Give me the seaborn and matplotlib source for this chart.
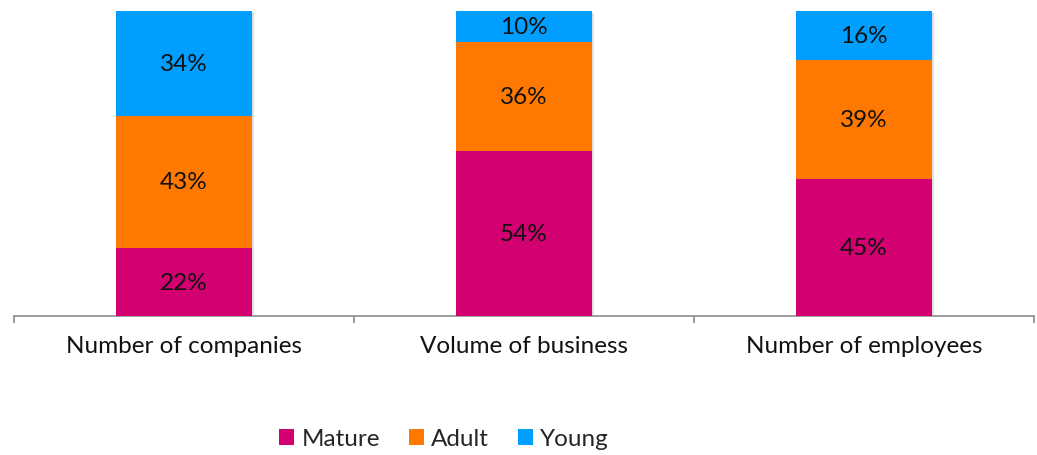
import numpy as np
import pandas as pd
import seaborn as sns
import matplotlib
matplotlib.use("Agg")
import matplotlib.pyplot as plt
from matplotlib.patches import Patch
from matplotlib.ticker import FixedLocator
import matplotlib.patheffects as pe

categories = ["Number of companies", "Volume of business", "Number of employees"]
series = ["Mature", "Adult", "Young"]
mature = [22, 54, 45]
adult = [43, 36, 39]
young = [34, 10, 16]
colors = ["#D20070", "#FF7800", "#009FFF"]

sns.set_theme(style="white")
plt.rcParams["font.family"] = ["Lato", "DejaVu Sans"]

values = np.array([mature, adult, young], dtype=float)
totals = values.sum(axis=0)
shares = values / totals * 100  # 100% stacked

FS = 17.5

fig = plt.figure(figsize=(10.37, 4.56), dpi=100)
ax = fig.add_axes([14 / 1037, 1 - 317 / 456, 1020 / 1037, 305 / 456])

bottom = np.zeros(len(categories))
for i, name in enumerate(series):
    n_before = len(ax.patches)
    df = pd.DataFrame({"cat": categories, "val": shares[i]})
    sns.barplot(data=df, x="cat", y="val", color=colors[i], width=0.4,
                bottom=bottom, ax=ax, saturation=1, linewidth=0,
                order=categories)
    for p in ax.patches[n_before:]:
        p.set_zorder(3 - i)
        p.set_path_effects([pe.SimplePatchShadow(offset=(1.5, -1.5), shadow_rgbFace="#999999", alpha=0.3),
                            pe.Normal()])
    for j in range(len(categories)):
        ax.text(j, bottom[j] + shares[i][j] / 2, f"{int(values[i][j])}%",
                ha="center", va="center", fontsize=FS, color="#111111", zorder=5)
    bottom = bottom + shares[i]

ax.set_xlim(-0.5, 2.5)
ax.set_ylim(0, 100)
ax.set_xlabel("")
ax.set_ylabel("")
ax.set_yticks([])
for s in ["top", "left", "right"]:
    ax.spines[s].set_visible(False)
ax.spines["bottom"].set_color("#8C8C8C")
ax.spines["bottom"].set_linewidth(1.2)
ax.xaxis.set_minor_locator(FixedLocator([-0.5, 0.5, 1.5, 2.5]))
ax.tick_params(axis="x", which="major", length=0, pad=14, labelsize=FS, labelcolor="#111111")
ax.tick_params(axis="x", which="minor", length=5, width=1.2, color="#8C8C8C", direction="out", bottom=True)

handles = [Patch(facecolor=c, edgecolor="none", label=s) for s, c in zip(series, colors)]
fig.legend(handles=handles, loc="center", bbox_to_anchor=(444 / 1037, 1 - 440 / 456),
           ncol=3, frameon=False, fontsize=FS, handlelength=0.6, handleheight=0.6,
           handletextpad=0.3, columnspacing=1.2)

fig.savefig("out.png", dpi=100)
